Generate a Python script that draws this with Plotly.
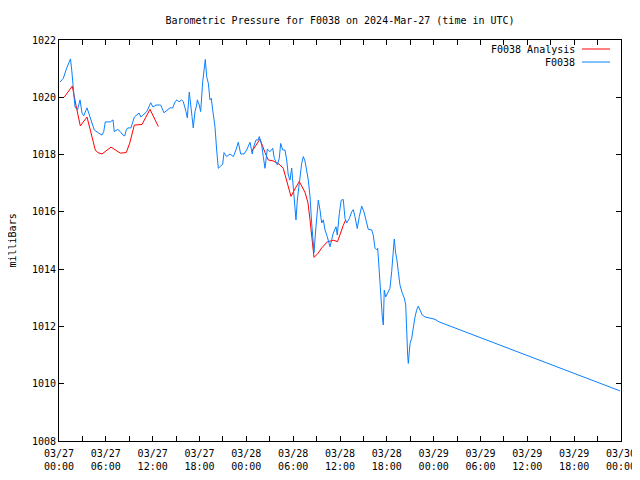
import pandas as pd
import plotly.graph_objects as go

# ---- data (hours after 2024-03-27 00:00 UTC, pressure in mb) ----
obs_hours = [0.13, 0.55, 0.99, 1.28, 1.47, 1.63, 1.79, 2.05, 2.37, 2.69, 2.95, 3.16, 3.59, 4.01, 4.23,
             4.52, 5.09, 5.51, 5.73, 5.93, 6.57, 6.92, 7.08, 7.52, 7.85, 8.20, 8.42, 8.62, 8.80, 9.22,
             9.65, 9.99, 10.25, 10.50, 11.24, 11.75, 12.04, 12.43, 13.03, 13.45, 14.22, 14.57, 14.86,
             15.12, 15.37, 15.72, 15.92, 16.27, 16.44, 16.69, 16.87, 17.04, 17.20, 17.42, 17.64, 17.72,
             17.97, 18.15, 18.41, 18.61, 18.74, 18.92, 19.13, 19.34, 19.51, 19.69, 19.98, 20.20, 20.41,
             20.71, 20.97, 21.14, 21.48, 21.91, 22.33, 22.67, 22.97, 23.28, 23.70, 24.04, 24.47, 24.76,
             24.89, 25.24, 25.53, 25.66, 25.97, 26.17, 26.39, 26.68, 27.03, 27.38, 27.58, 27.97, 28.22,
             28.40, 28.66, 28.95, 29.17, 29.37, 29.59, 29.81, 30.02, 30.23, 30.36, 30.53, 30.78, 31.09,
             31.30, 31.51, 31.94, 32.16, 32.37, 32.58, 32.67, 32.92, 33.22, 33.44, 33.65, 33.86, 34.08,
             34.37, 34.72, 34.93, 35.14, 35.49, 35.65, 35.91, 36.16, 36.42, 36.64, 36.86, 37.19, 37.50,
             37.70, 37.92, 38.21, 38.47, 38.78, 39.07, 39.33, 39.62, 40.06, 40.26, 40.48, 40.70, 40.83,
             40.99, 41.12, 41.25, 41.42, 41.55, 41.67, 41.85, 42.11, 42.40, 42.62, 42.83, 42.95, 43.13,
             43.30, 43.47, 43.68, 43.98, 44.24, 44.42, 44.54, 44.67, 44.75, 44.97, 45.18, 45.39, 45.61,
             45.82, 46.03, 46.25, 46.54, 46.89, 47.53, 48.17, 48.68, 71.87]
obs_press = [1020.53, 1020.66, 1021.02, 1021.23, 1021.34, 1020.95, 1020.43, 1019.66, 1019.56, 1019.91,
             1019.45, 1019.35, 1019.63, 1019.31, 1019.10, 1018.86, 1018.75, 1018.68, 1018.80, 1019.14,
             1019.14, 1019.21, 1018.80, 1018.88, 1018.80, 1018.68, 1018.65, 1018.86, 1018.93, 1018.93,
             1019.31, 1019.38, 1019.45, 1019.31, 1019.50, 1019.81, 1019.66, 1019.73, 1019.73, 1019.46,
             1019.63, 1019.63, 1019.84, 1019.91, 1019.84, 1019.91, 1019.85, 1019.50, 1019.28, 1020.18,
             1019.63, 1019.33, 1018.93, 1019.50, 1019.73, 1019.91, 1019.73, 1019.50, 1020.54, 1021.18,
             1021.32, 1020.72, 1020.49, 1019.91, 1019.96, 1019.56, 1018.98, 1018.16, 1017.52, 1017.60,
             1017.66, 1018.07, 1017.93, 1018.02, 1017.93, 1018.16, 1018.43, 1018.02, 1018.02, 1018.16,
             1018.43, 1018.02, 1018.23, 1018.51, 1018.51, 1018.63, 1018.33, 1017.93, 1017.52, 1018.19,
             1018.10, 1018.22, 1017.87, 1017.64, 1017.87, 1018.39, 1018.16, 1018.16, 1017.81, 1017.29,
             1017.11, 1017.53, 1016.76, 1016.18, 1015.72, 1016.41, 1016.99, 1017.69, 1017.93, 1017.78,
             1017.11, 1016.53, 1015.61, 1014.85, 1014.58, 1015.48, 1016.41, 1016.06, 1015.61, 1015.72,
             1015.37, 1015.13, 1014.78, 1015.02, 1015.26, 1015.48, 1015.19, 1015.94, 1016.41, 1016.43,
             1015.77, 1015.61, 1015.77, 1016.00, 1016.08, 1015.83, 1015.42, 1015.83, 1016.20, 1016.00,
             1015.72, 1015.39, 1015.37, 1015.19, 1014.73, 1014.67, 1014.73, 1014.08, 1013.62, 1012.75,
             1012.33, 1012.05, 1013.27, 1013.03, 1013.20, 1013.33, 1013.91, 1014.67, 1015.05, 1014.56,
             1014.32, 1013.91, 1013.45, 1013.16, 1012.99, 1012.75, 1011.64, 1011.00, 1010.71, 1011.40,
             1011.58, 1012.05, 1012.33, 1012.57, 1012.71, 1012.57, 1012.40, 1012.33, 1012.28, 1012.25,
             1012.16, 1009.75]

ana_hours = [0.68, 1.70, 2.22, 2.73, 3.59, 4.65, 4.96, 5.51, 6.66, 7.85, 8.62, 9.06, 9.65, 10.63, 11.66,
             12.72, None,
             24.69, 25.75, 26.39, 26.81, 27.42, 28.18, 28.73, 29.17, 29.72, 30.23, 30.78, 31.51, 31.90,
             32.16, 32.50, 32.67, 33.18, 33.65, 34.37, 35.14, 35.68, 36.00, 36.42, 36.73]
ana_press = [1020.01, 1020.39, 1019.66, 1019.00, 1019.31, 1018.16, 1018.07, 1018.02, 1018.26, 1018.05,
             1018.07, 1018.40, 1019.03, 1019.05, 1019.58, 1018.98, None,
             1018.10, 1018.54, 1018.07, 1017.81, 1017.78, 1017.67, 1017.52, 1017.08, 1016.54, 1016.80,
             1017.06, 1016.69, 1016.31, 1015.72, 1014.78, 1014.41, 1014.55, 1014.74, 1014.95, 1015.01,
             1014.96, 1015.24, 1015.53, 1015.72]

tick_hours = list(range(0, 73, 6))
tick_labels = ["03/27<br>00:00", "03/27<br>06:00", "03/27<br>12:00", "03/27<br>18:00",
               "03/28<br>00:00", "03/28<br>06:00", "03/28<br>12:00", "03/28<br>18:00",
               "03/29<br>00:00", "03/29<br>06:00", "03/29<br>12:00", "03/29<br>18:00",
               "03/30<br>00:00"]
y_ticks = [1008, 1010, 1012, 1014, 1016, 1018, 1020, 1022]

base = pd.Timestamp("2024-03-27 00:00")


def to_time(hours):
    return [None if h is None else base + pd.Timedelta(hours=h) for h in hours]


RED = "#ff0000"
BLUE = "#0a80ff"
FONT = "DejaVu Sans Mono"
OFF = 8  # page body offset

fig = go.Figure()
fig.add_trace(go.Scatter(x=to_time(ana_hours), y=ana_press, mode="lines", name="F0038 Analysis",
                         line=dict(color=RED, width=1), connectgaps=False))
fig.add_trace(go.Scatter(x=to_time(obs_hours), y=obs_press, mode="lines", name="F0038",
                         line=dict(color=BLUE, width=1)))

fig.update_layout(
    width=640, height=480,
    margin=dict(l=59 - OFF, r=19 + OFF, t=40 - OFF, b=39 + OFF, autoexpand=False),
    paper_bgcolor="white", plot_bgcolor="white",
    showlegend=False,
    font=dict(family=FONT, size=10, color="black"),
    title=dict(text="Barometric Pressure for F0038 on 2024-Mar-27 (time in UTC)",
               x=0.5, xref="paper", xanchor="center", y=1 - (20 - OFF) / 480, yanchor="middle",
               font=dict(family=FONT, size=10, color="black")),
)
fig.update_xaxes(
    automargin=False,
    range=[base, base + pd.Timedelta(hours=72)],
    tickvals=to_time(tick_hours), ticktext=tick_labels,
    ticks="inside", ticklen=5, tickcolor="black", ticklabelstandoff=3,
    minor=dict(ticks="inside", ticklen=5, tickcolor="black",
               tickvals=to_time(list(range(3, 72, 6)))),
    showline=True, linecolor="black", linewidth=1, mirror="ticks",
    showgrid=False, zeroline=False,
    tickfont=dict(family=FONT, size=10, color="black"),
)
fig.update_yaxes(
    automargin=False,
    range=[1008, 1022], tickvals=y_ticks, ticktext=[str(v) for v in y_ticks],
    ticks="inside", ticklen=5, tickcolor="black",
    showline=True, linecolor="black", linewidth=1, mirror="ticks",
    showgrid=False, zeroline=False,
    tickfont=dict(family=FONT, size=10, color="black"),
)

# y-axis label
fig.add_annotation(text="milliBars", xref="paper", yref="paper", x=(12 - 59) / 562, y=0.5,
                   textangle=-90, showarrow=False, xanchor="center", yanchor="middle",
                   font=dict(family=FONT, size=10, color="black"))

# gnuplot-style key (text then line sample)
key = [("F0038 Analysis", RED, 49), ("F0038", BLUE, 62)]
for label, col, ypx in key:
    yp = (441 - ypx) / 401
    fig.add_annotation(text=label, xref="paper", yref="paper", x=(577 - 59) / 562, y=yp,
                       showarrow=False, xanchor="right", yanchor="middle",
                       font=dict(family=FONT, size=10, color="black"))
    fig.add_shape(type="line", xref="paper", yref="paper",
                  x0=(582 - 59) / 562, x1=(610 - 59) / 562, y0=yp, y1=yp,
                  line=dict(color=col, width=1))

fig.write_html("out.html")
